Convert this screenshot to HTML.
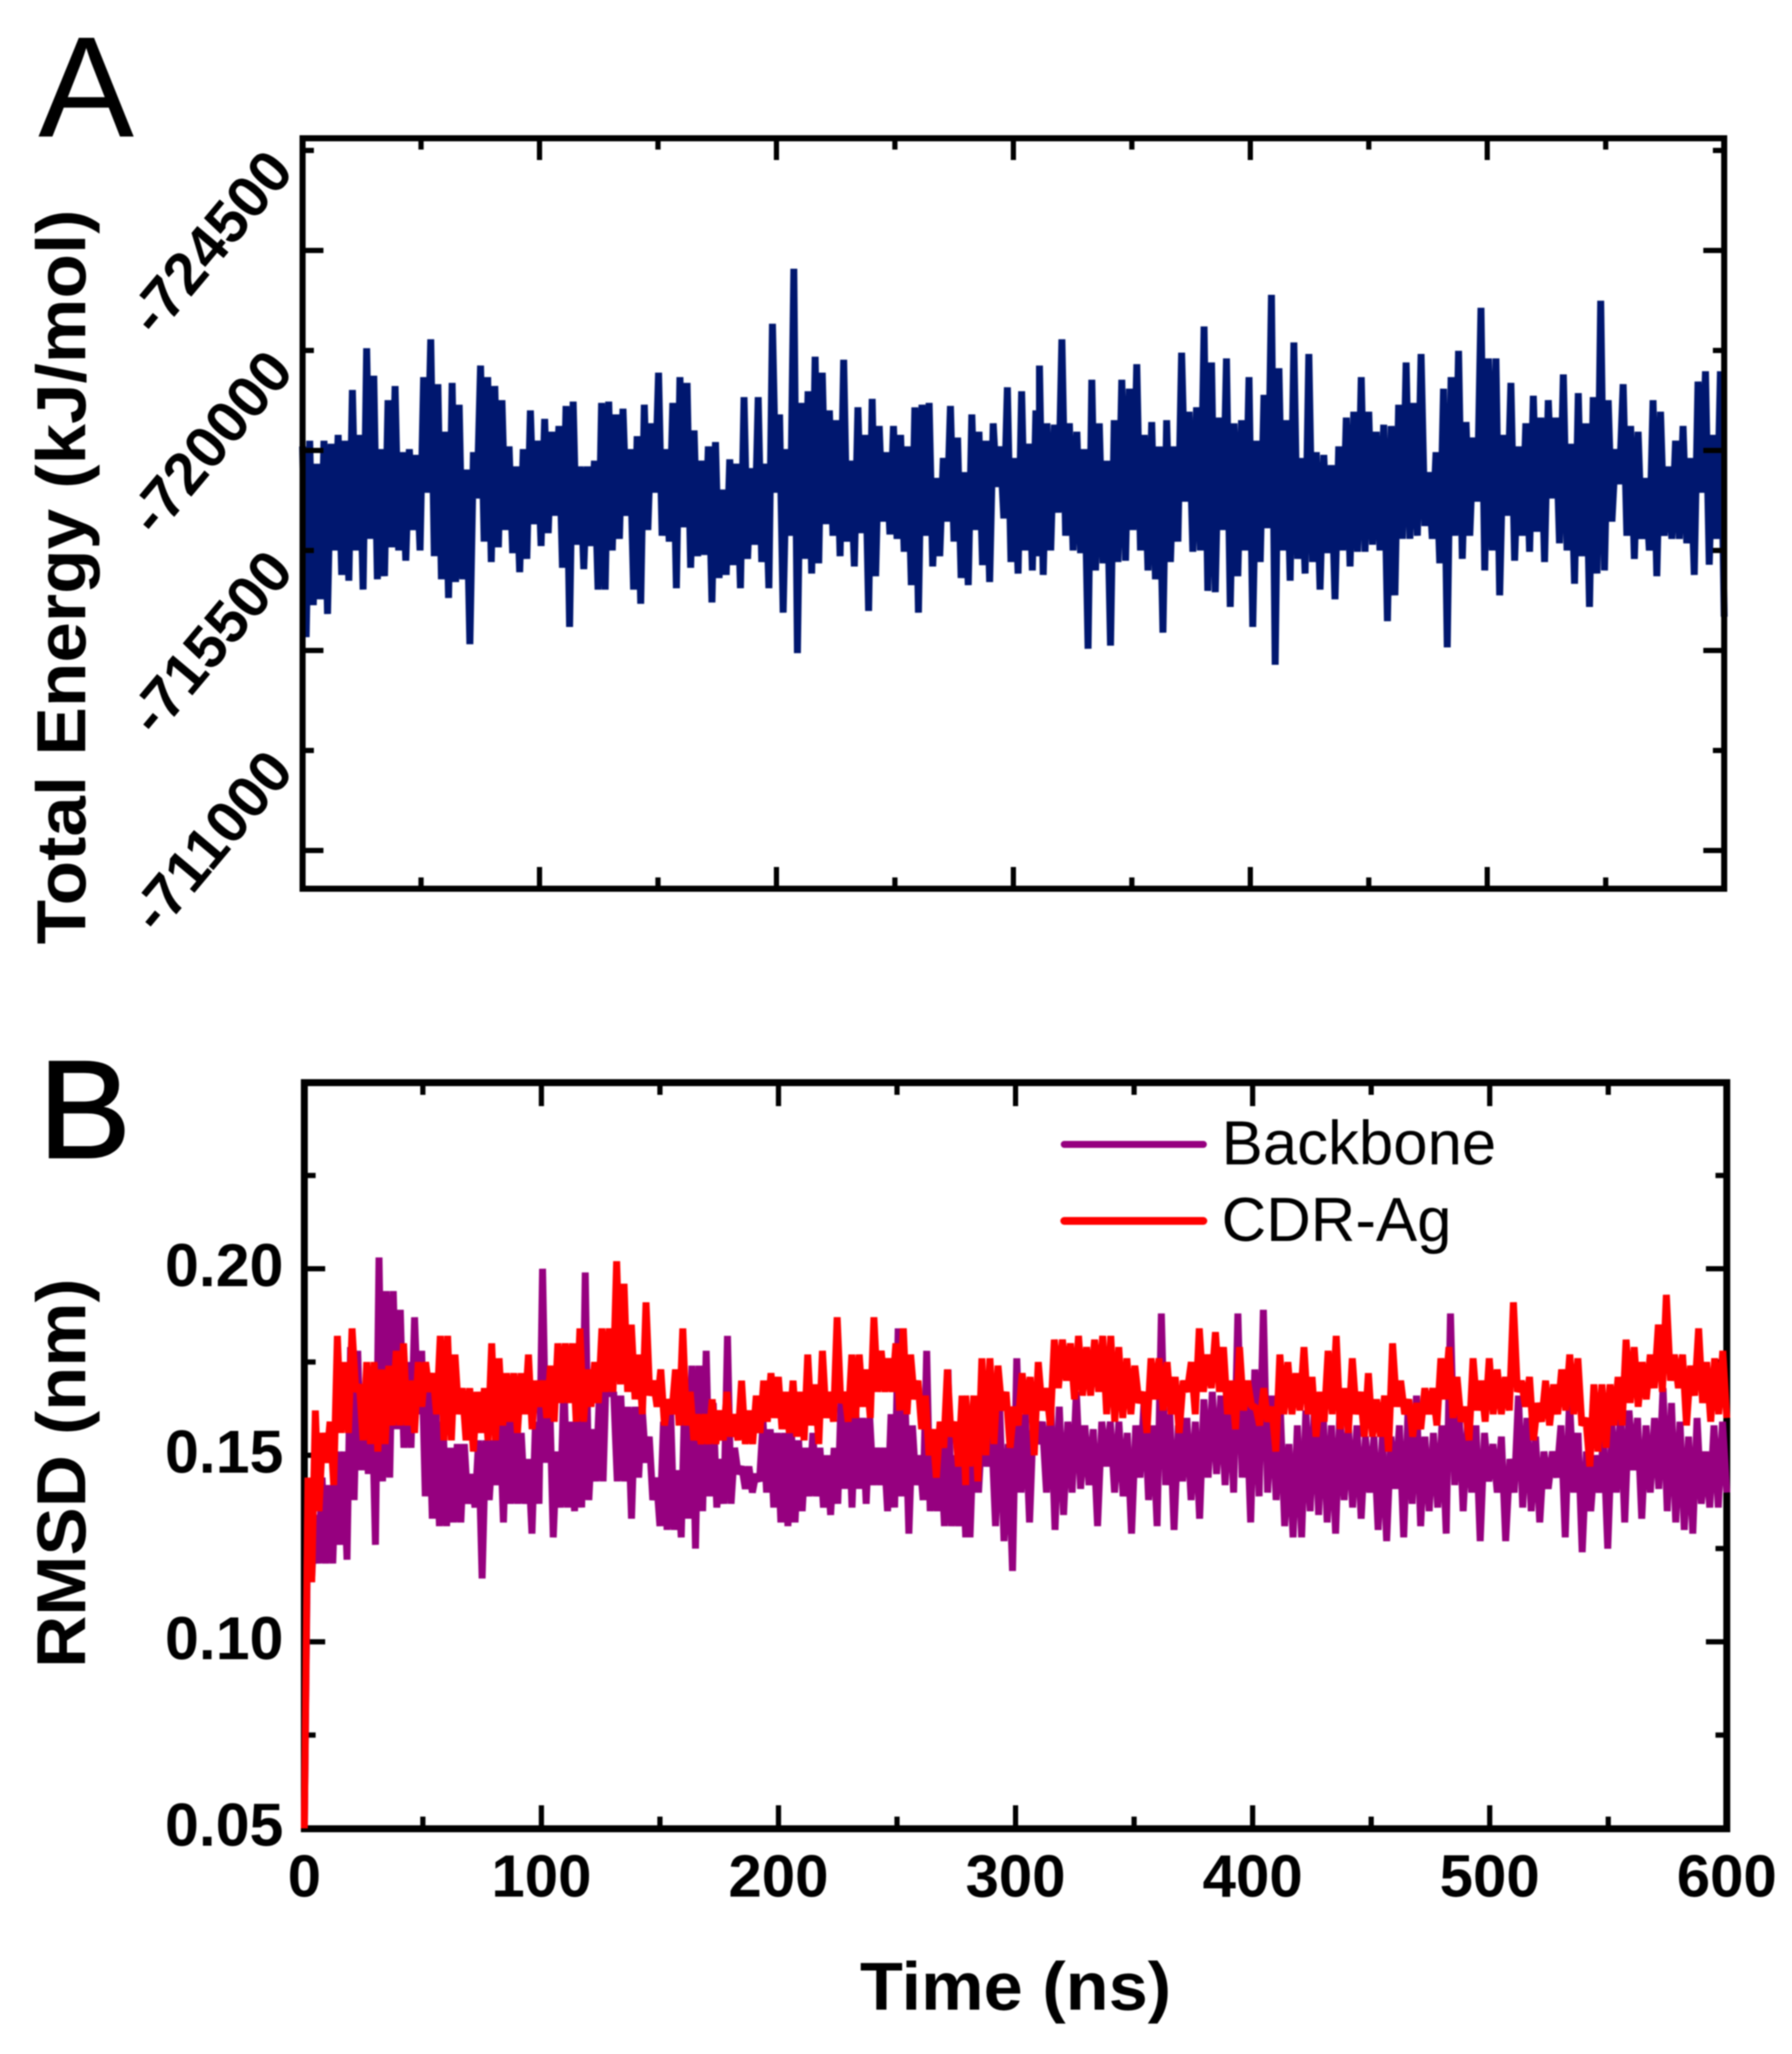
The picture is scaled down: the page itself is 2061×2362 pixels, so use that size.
<!DOCTYPE html>
<html lang="en">
<head>
<meta charset="utf-8">
<title>Total energy and RMSD over time</title>
<style>
html,body{margin:0;padding:0;background:#fff;}
svg{display:block;filter:blur(0.7px);}
text{font-family:"Liberation Sans",Arial,sans-serif;fill:#000;}
.bold{font-weight:bold;}
</style>
</head>
<body>
<svg id="chart" width="2061" height="2362" viewBox="0 0 2061 2362">
  <rect x="0" y="0" width="2061" height="2362" fill="#fff"/>
  <text x="44" y="157" font-size="165">A</text>
  <text x="44" y="1331" font-size="160" stroke="#000" stroke-width="2">B</text>
  <g id="panelA"></g>
  <g id="panelB"></g>
  <text class="bold" transform="translate(98,1086) rotate(-90)" font-size="80" textLength="845" lengthAdjust="spacingAndGlyphs">Total Energy (kJ/mol)</text>
  <text class="bold" transform="translate(98,1918) rotate(-90)" font-size="80" textLength="448" lengthAdjust="spacingAndGlyphs">RMSD (nm)</text>
  <text class="bold" x="1168" y="2311" font-size="78" text-anchor="middle" textLength="358" lengthAdjust="spacingAndGlyphs">Time (ns)</text>
  <g>
    <line x1="1224" x2="1384" y1="1316" y2="1316" stroke="#96007f" stroke-width="8" stroke-linecap="round"/>
    <text x="1405" y="1339" font-size="71">Backbone</text>
    <line x1="1224" x2="1384" y1="1404" y2="1404" stroke="#ff0000" stroke-width="9" stroke-linecap="round"/>
    <text x="1405" y="1427" font-size="71">CDR-Ag</text>
  </g>
</svg>
<script>
// Time axis ticks (ns)
const timeMajorTicks = [0, 100, 200, 300, 400, 500, 600];
const timeMinorTicks = [50, 150, 250, 350, 450, 550];

// Panel A value-axis ticks (kJ/mol)
const energyLabelTicks = [-724500, -720000, -715500, -711000];
const energyLongTicks = [-722250, -717750, -713250, -708750];

// Panel B value-axis ticks (nm)
const rmsdLabelTicks = ["0.05", "0.10", "0.15", "0.20"];
const rmsdMinorTicks = [0.075, 0.125, 0.175, 0.225];

// Time where each series' first block of readings ends (ns)
const energyBlockBreak = 311;
const rmsdBlockBreak = 279;

// Total energy readings (kJ/mol), peak then trough, 0-311 ns
const energyEarly = [
-717840,-713550,-717970,-714270,-717450,-714400,-717970,-714070,-717900,-715500,-718100,-714950,-717970,-714820,-719110,-715500,-718100,-714620,-720050,-715760,
-719430,-714850,-717780,-714920,-718880,-715570,-719200,-715500,-717710,-715270,-717780,-715960,-717650,-715500,-719400,-716800,-720250,-715370,-719240,-714850,
-718170,-714430,-719270,-714790,-718780,-714850,-717320,-713390,-717710,-716670,-719660,-715700,-719400,-715240,-719200,-715570,-718880,-715960,-717840,-715440,
-717390,-715010,-717780,-715310,-718650,-716090,-717970,-715600,-718460,-715890,-718170,-716280,-718300,-715110,-718750,-713780,-718850,-715630,-717390,-715080,
-717390,-715600,-717520,-714620,-718820,-714620,-718850,-715500,-718560,-715760,-718690,-716280,-717780,-714620,-718070,-714300,-718780,-715960,-718360,-716800,
-719500,-715830,-717780,-715700,-718820,-714650,-719400,-716020,-719270,-715110,-718200,-715370,-717520,-715400,-717840,-714330,-717940,-714880,-716870,-714950,
-717550,-715170,-717450,-714650,-718950,-715310,-717350,-715630,-718950,-715240,-717450,-714650,-720600,-716800,-718560,-714100,-717780,-715830,-721840,-713190,
-718820,-715310,-719080,-714980,-719860,-715210,-719500,-716090,-718650,-715830,-718430,-715370,-719790,-715700,-717520,-715140,-718720,-715890,-718100,-714140,
-718910,-714920,-718300,-716150,-717710,-715860,-718300,-715760,-718100,-715470,-717840,-714720,-718720,-714100,-718780,-715830,-718820,-715140,-717130,-715370,
-717580,-716150,-718750,-715700,-718040,-714880,-717260,-714720,-718560,-715960,-718170,-715170,-717970,-714790,-718360,-716930,-717840,-716220,-719170,-715240,
-717580,-714980,-719080,-715500,-717900,-715050,-718650,-715370
];

// Total energy readings (kJ/mol), peak then trough, 311-600 ns
const energyLate = [
-719660,-714950,-718360,-715500,-718330,-716350,-720250,-715830,-718360,-715500,-718170,-715440,-717780,-713290,-719340,-715050,-718360,-715210,-717520,-713360,
-718430,-715240,-719340,-715270,-719140,-715960,-719690,-715500,-718100,-715050,-718390,-714850,-717840,-713650,-718430,-715240,-717840,-715700,-719950,-716600,
-718620,-715470,-718720,-715500,-720540,-714590,-719730,-714560,-718490,-715960,-719820,-714230,-718360,-714920,-718430,-715500,-719400,-713780,-717970,-715240,
-719000,-716000,-721250,-712930,-719600,-715500,-718430,-714820,-720180,-715310,-717580,-714980,-719920,-715240,-717710,-714620,-717650,-715440,-717420,-714400,
-717840,-715500,-718490,-715140,-718620,-715470,-719400,-715470,-718620,-715630,-718170,-715500,-718330,-713910,-718300,-714490,-718780,-715760,-719730,-715760,
-718820,-715830,-719920,-716050,-717260,-715760,-717710,-715210,-719140,-713320,-719400,-715830,-719990,-715310,-718390,-715830,-718040,-716600,-720960,-715050,
-719820,-715500,-719820,-714490,-718100,-716280,-719270,-715270,-717840,-715830,-718360,-715470,-718980,-715920,-718490,-715240,-718880,-716670,-718490,-715660,
-719460,-715500,-717900,-714750,-719040,-715370,-718360,-714230,-718950,-714980,-721120,-715050,-718880,-716150,-717780,-716990,-719240,-715830,-718300,-715310,
-718170,-715760,-717130,-715500,-718880,-714920,-718620,-715830,-717390,-715760,-717970,-715760,-718300,-715660,-717580,-714950,-719300,-716800,-719530,-715180,
-718100,-715760,-719530,-714010
];

// Backbone RMSD readings (nm), peak then trough, 0-279 ns
const backboneEarly = [
.05,.136,.116,.134,.121,.144,.121,.142,.121,.151,.126,.151,.122,.179,.138,.178,.146,.167,.145,.167,.126,
.203,.143,.194,.144,.194,.157,.189,.152,.175,.152,.187,.161,.178,.139,.167,.133,.163,.131,.159,.131,
.152,.132,.153,.132,.153,.137,.145,.136,.154,.117,.154,.138,.154,.142,.159,.132,.163,.137,.159,.137,
.156,.137,.149,.129,.159,.137,.200,.148,.165,.128,.151,.136,.170,.136,.159,.135,.170,.136,.199,.138,
.157,.143,.167,.143,.175,.166,.167,.143,.166,.143,.163,.133,.163,.144,.163,.148,.155,.138,.144,.131,
.159,.130,.162,.130,.146,.128,.167,.133,.174,.125,.174,.135,.178,.139,.164,.136,.149,.137,.182,.137,
.152,.145,.147,.141,.147,.140,.145,.143,.159,.140,.157,.136,.156,.132,.156,.131,.156,.132,.154,.135,
.152,.139,.156,.139,.152,.136,.150,.134,.152,.137,.167,.141,.163,.136,.163,.141,.160,.137,.160,.142,
.152,.142,.152,.135,.161,.136,.184,.139,.163,.129,.158,.142,.150,.138,.178,.135,.152,.135,.152,.131,
.173,.131,.150,.131,.152,.128
];

// Backbone RMSD readings (nm), peak then trough, 279-600 ns
const backboneLate = [
.161,.128,.161,.140,.161,.147,.158,.131,.162,.127,.153,.119,.176,.140,.161,.132,.163,.153,.159,.140,
.164,.130,.163,.134,.159,.140,.167,.141,.158,.142,.157,.131,.159,.147,.159,.140,.159,.139,.156,.129,
.158,.144,.166,.138,.158,.131,.188,.142,.161,.130,.158,.143,.160,.138,.159,.133,.165,.144,.167,.145,
.166,.142,.166,.140,.188,.144,.165,.132,.173,.139,.189,.140,.166,.138,.162,.131,.153,.128,.158,.128,
.162,.135,.163,.134,.163,.132,.158,.129,.162,.138,.158,.136,.158,.133,.155,.140,.155,.130,.155,.127,
.155,.141,.158,.128,.161,.137,.166,.131,.155,.135,.156,.136,.158,.129,.188,.142,.163,.135,.158,.140,
.158,.127,.156,.143,.153,.140,.155,.127,.149,.140,.166,.136,.160,.135,.155,.132,.151,.141,.151,.144,
.158,.128,.165,.140,.156,.124,.151,.135,.150,.140,.155,.125,.158,.140,.162,.132,.162,.146,.160,.133,
.158,.140,.160,.141,.168,.135,.164,.132,.159,.130,.155,.129,.160,.137,.151,.136,.158,.136,.159,.140
];

// CDR-Ag RMSD readings (nm), peak then trough, 0-279 ns
const cdrAgEarly = [
.05,.144,.116,.162,.135,.156,.148,.159,.142,.182,.156,.175,.156,.184,.167,.169,.154,.175,.153,.175,.151,
.173,.153,.174,.158,.178,.158,.180,.158,.170,.156,.175,.163,.175,.167,.172,.161,.182,.154,.182,.154,
.177,.161,.168,.154,.168,.151,.167,.156,.168,.154,.180,.154,.176,.158,.172,.159,.172,.156,.172,.161,
.177,.157,.170,.163,.170,.160,.174,.159,.180,.164,.180,.164,.180,.159,.184,.159,.173,.163,.175,.164,
.184,.167,.184,.167,.202,.169,.196,.167,.185,.165,.177,.161,.191,.166,.170,.163,.173,.158,.165,.161,
.173,.158,.184,.158,.167,.154,.161,.153,.161,.153,.165,.153,.162,.154,.167,.155,.161,.154,.170,.153,
.162,.153,.166,.156,.170,.159,.172,.160,.171,.157,.167,.156,.170,.155,.167,.154,.177,.158,.169,.153,
.178,.160,.167,.159,.187,.164,.167,.159,.177,.160,.177,.163,.173,.160,.187,.167,.178,.167,.176,.167,
.180,.162,.184,.161,.177,.165,.170,.157,.166,.150,.157,.144,.159,.152,.173,.155,.159,.147,.166,.142
];

// CDR-Ag RMSD readings (nm), peak then trough, 279-600 ns
const cdrAgLate = [
.166,.147,.166,.143,.176,.150,.176,.153,.174,.162,.167,.152,.163,.158,.172,.161,.171,.150,.175,.162,
.168,.158,.181,.168,.181,.170,.180,.165,.182,.166,.179,.166,.181,.167,.182,.161,.182,.159,.179,.160,
.176,.161,.174,.164,.167,.156,.176,.165,.176,.162,.175,.161,.171,.156,.170,.167,.175,.161,.184,.167,
.177,.168,.183,.167,.179,.161,.170,.157,.179,.162,.170,.163,.163,.158,.168,.159,.163,.151,.177,.161,
.175,.161,.172,.162,.179,.161,.171,.155,.167,.159,.178,.161,.182,.157,.168,.156,.176,.161,.167,.155,
.172,.155,.165,.155,.166,.151,.180,.163,.170,.161,.165,.155,.164,.157,.168,.161,.168,.158,.176,.165,
.179,.160,.171,.159,.163,.154,.176,.162,.170,.159,.176,.161,.173,.161,.171,.162,.191,.167,.170,.163,
.171,.154,.164,.159,.170,.158,.169,.161,.173,.162,.177,.161,.176,.158,.160,.147,.169,.151,.169,.152,
.169,.158,.171,.158,.181,.164,.179,.163,.175,.165,.177,.168,.185,.167,.193,.170,.177,.168,.177,.158,
.174,.166,.184,.164,.175,.159,.176,.161,.178,.160
];

const svgNS = document.getElementById('chart').namespaceURI;
const panelA = document.getElementById('panelA');
const panelB = document.getElementById('panelB');

function linearScale(d0, d1, r0, r1) {
  return function (v) { return r0 + (v - d0) / (d1 - d0) * (r1 - r0); };
}

const plotA = { left: 348, right: 1983, top: 159, bottom: 1022 };
const plotB = { left: 350, right: 1986, top: 1245, bottom: 2103 };

const xA = linearScale(0, 600, plotA.left, plotA.right);
const yA = linearScale(-720000, -715500, 403, 633);
const xB = linearScale(0, 600, plotB.left, plotB.right);
const yB = linearScale(0.05, 0.25, 2102.5, 1244.5);

function addLine(parent, x1, y1, x2, y2, width, name) {
  const el = document.createElementNS(svgNS, 'line');
  el.setAttribute('x1', x1);
  el.setAttribute('y1', y1);
  el.setAttribute('x2', x2);
  el.setAttribute('y2', y2);
  el.setAttribute('stroke', '#000');
  el.setAttribute('stroke-width', width);
  
  
  parent.appendChild(el);
}

function addLabel(parent, x, y, str, size, anchor, transform, name) {
  const el = document.createElementNS(svgNS, 'text');
  el.setAttribute('class', 'bold');
  el.setAttribute('x', x);
  el.setAttribute('y', y);
  el.setAttribute('font-size', size);
  el.setAttribute('text-anchor', anchor);
  if (transform) el.setAttribute('transform', transform);
  el.textContent = str;
  
  
  parent.appendChild(el);
}

function addSeries(parent, early, late, breakTime, x, y, color, width, name) {
  let d = '';
  early.forEach(function (v, i) {
    const t = i / (early.length - 1) * breakTime;
    d += (i ? 'L' : 'M') + x(t).toFixed(1) + ' ' + y(v).toFixed(1);
  });
  late.forEach(function (v, i) {
    const t = breakTime + i / (late.length - 1) * (600 - breakTime);
    d += 'L' + x(t).toFixed(1) + ' ' + y(v).toFixed(1);
  });
  const el = document.createElementNS(svgNS, 'path');
  el.setAttribute('d', d);
  el.setAttribute('fill', 'none');
  el.setAttribute('stroke', color);
  el.setAttribute('stroke-width', width);
  el.setAttribute('stroke-linejoin', 'bevel');
  
  
  parent.appendChild(el);
}

function addFrame(parent, p, width, name) {
  const el = document.createElementNS(svgNS, 'rect');
  el.setAttribute('x', p.left);
  el.setAttribute('y', p.top);
  el.setAttribute('width', p.right - p.left);
  el.setAttribute('height', p.bottom - p.top);
  el.setAttribute('fill', 'none');
  el.setAttribute('stroke', '#000');
  el.setAttribute('stroke-width', width);
  
  
  parent.appendChild(el);
}

// Panel A
addSeries(panelA, energyEarly, energyLate, energyBlockBreak, xA, yA, '#00176f', 8, 'total-energy-line');
addFrame(panelA, plotA, 7, 'panel-a-frame');
timeMajorTicks.forEach(function (t) {
  addLine(panelA, xA(t), plotA.bottom, xA(t), plotA.bottom - 25, 6, 'panel-a-x-major-tick');
  addLine(panelA, xA(t), plotA.top, xA(t), plotA.top + 25, 6, 'panel-a-x-major-tick-top');
});
timeMinorTicks.forEach(function (t) {
  addLine(panelA, xA(t), plotA.bottom, xA(t), plotA.bottom - 13, 6, 'panel-a-x-minor-tick');
  addLine(panelA, xA(t), plotA.top, xA(t), plotA.top + 13, 6, 'panel-a-x-minor-tick-top');
});
energyLongTicks.forEach(function (v) {
  addLine(panelA, plotA.left, yA(v), plotA.left + 24, yA(v), 6, 'panel-a-y-long-tick');
  addLine(panelA, plotA.right, yA(v), plotA.right - 24, yA(v), 6, 'panel-a-y-long-tick-right');
});
energyLabelTicks.forEach(function (v) {
  addLine(panelA, plotA.left, yA(v), plotA.left + 13, yA(v), 6, 'panel-a-y-short-tick');
  addLine(panelA, plotA.right, yA(v), plotA.right - 13, yA(v), 6, 'panel-a-y-short-tick-right');
  const ax = 340, ay = yA(v) + 25;
  addLabel(panelA, ax, ay, String(v), 68, 'end', 'rotate(-50 ' + ax + ' ' + ay + ')', 'energy-tick-label');
});

// Panel B
addFrame(panelB, plotB, 8, 'panel-b-frame');
timeMajorTicks.forEach(function (t) {
  addLine(panelB, xB(t), plotB.bottom, xB(t), plotB.bottom - 27, 6, 'panel-b-x-major-tick');
  addLine(panelB, xB(t), plotB.top, xB(t), plotB.top + 27, 6, 'panel-b-x-major-tick-top');
  addLabel(panelB, xB(t), 2181, String(t), 69, 'middle', '', 'time-tick-label');
});
timeMinorTicks.forEach(function (t) {
  addLine(panelB, xB(t), plotB.bottom, xB(t), plotB.bottom - 14, 6, 'panel-b-x-minor-tick');
  addLine(panelB, xB(t), plotB.top, xB(t), plotB.top + 14, 6, 'panel-b-x-minor-tick-top');
});
rmsdLabelTicks.forEach(function (s) {
  const v = parseFloat(s);
  addLine(panelB, plotB.left, yB(v), plotB.left + 24, yB(v), 6, 'panel-b-y-major-tick');
  addLine(panelB, plotB.right, yB(v), plotB.right - 24, yB(v), 6, 'panel-b-y-major-tick-right');
  addLabel(panelB, 326, yB(v) + 20, s, 70, 'end', '', 'rmsd-tick-label');
});
rmsdMinorTicks.forEach(function (v) {
  addLine(panelB, plotB.left, yB(v), plotB.left + 13, yB(v), 6, 'panel-b-y-minor-tick');
  addLine(panelB, plotB.right, yB(v), plotB.right - 13, yB(v), 6, 'panel-b-y-minor-tick-right');
});
addSeries(panelB, backboneEarly, backboneLate, rmsdBlockBreak, xB, yB, '#96007f', 8, 'backbone-line');
addSeries(panelB, cdrAgEarly, cdrAgLate, rmsdBlockBreak, xB, yB, '#ff0000', 8, 'cdr-ag-line');
</script>
</body>
</html>
